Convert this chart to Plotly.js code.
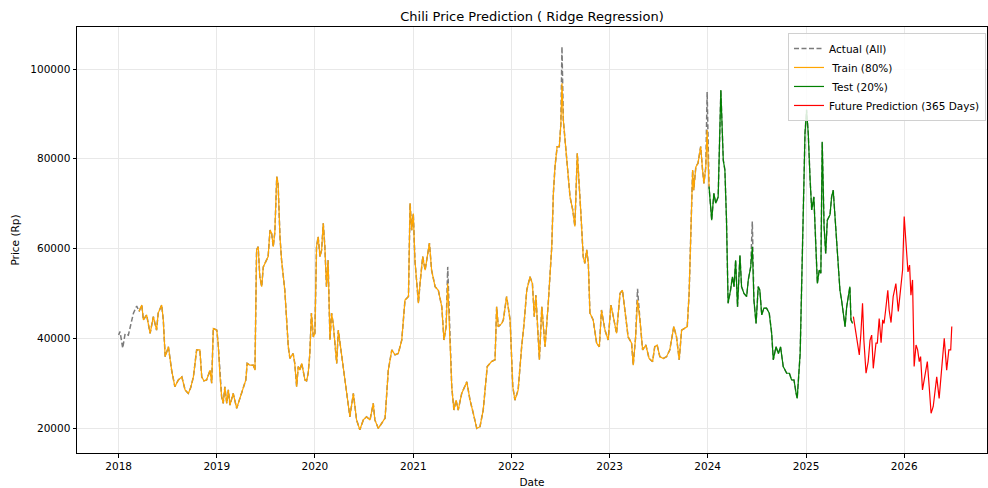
<!DOCTYPE html>
<html>
<head>
<meta charset="utf-8">
<script src="https://cdn.plot.ly/plotly-3.0.1.min.js"></script>
<style>html,body{margin:0;padding:0;background:#fff;}#chart{width:988px;height:488px;}</style>
</head>
<body>
<div id="chart"></div>
<script>
// Actual observed prices (decimal year, Rp)
const actualYears = [
2018.000,2018.015,2018.043,2018.066,2018.100,2018.127,2018.151,2018.185,2018.209,2018.236,
2018.253,2018.287,2018.321,2018.354,2018.389,2018.405,2018.440,2018.456,2018.474,2018.507,
2018.542,2018.575,2018.609,2018.644,2018.677,2018.711,2018.735,2018.762,2018.796,2018.830,
2018.847,2018.871,2018.898,2018.932,2018.949,2018.965,
2019.000,2019.016,2019.034,2019.051,2019.067,2019.084,2019.102,2019.118,2019.135,2019.169,
2019.204,2019.237,2019.271,2019.298,2019.312,2019.339,2019.373,2019.390,2019.407,2019.424,
2019.441,2019.458,2019.475,2019.509,2019.525,2019.543,2019.560,2019.576,2019.594,2019.611,
2019.627,2019.645,2019.662,2019.695,2019.713,2019.729,2019.746,2019.780,2019.797,2019.815,
2019.831,2019.848,2019.866,2019.882,2019.899,2019.916,2019.933,2019.950,2019.967,2019.984,
2020.001,2020.018,2020.035,2020.052,2020.069,2020.085,2020.103,2020.120,2020.136,2020.154,
2020.171,2020.187,2020.222,2020.238,2020.273,2020.306,2020.340,2020.357,2020.391,2020.426,
2020.459,2020.493,2020.527,2020.561,2020.595,2020.612,2020.646,2020.680,2020.714,2020.747,
2020.782,2020.816,2020.849,2020.884,2020.917,2020.951,2020.968,2020.986,
2021.002,2021.019,2021.053,2021.070,2021.098,2021.121,2021.165,2021.189,2021.223,2021.257,
2021.291,2021.315,2021.335,2021.352,2021.376,2021.393,2021.416,2021.437,2021.460,2021.495,
2021.546,2021.579,2021.613,2021.648,2021.681,2021.715,2021.756,2021.800,2021.834,2021.851,
2021.868,2021.902,2021.918,2021.953,2021.987,
2022.014,2022.038,2022.071,2022.106,2022.129,2022.157,2022.190,2022.214,2022.234,2022.251,
2022.285,2022.310,2022.343,2022.377,2022.411,2022.428,2022.445,2022.468,2022.489,2022.506,
2022.516,2022.529,2022.547,2022.580,2022.598,2022.625,2022.649,2022.672,2022.692,2022.710,
2022.733,2022.750,2022.768,2022.784,2022.801,2022.835,2022.870,2022.896,2022.920,2022.954,
2022.988,
2023.015,2023.039,2023.073,2023.107,2023.134,2023.158,2023.191,2023.226,2023.242,2023.267,
2023.287,2023.310,2023.338,2023.372,2023.405,2023.440,2023.463,2023.487,2023.514,2023.548,
2023.582,2023.616,2023.657,2023.684,2023.711,2023.735,2023.769,2023.792,2023.813,2023.827,
2023.837,2023.847,2023.860,2023.881,2023.904,2023.929,2023.949,2023.962,2023.983,2023.996,
2024.016,2024.041,2024.064,2024.084,2024.108,2024.135,2024.159,2024.176,2024.193,2024.210,
2024.234,2024.254,2024.268,2024.285,2024.305,2024.329,2024.346,2024.369,2024.397,2024.413,
2024.438,2024.454,2024.471,2024.492,2024.515,2024.532,2024.550,2024.573,2024.601,2024.627,
2024.652,2024.668,2024.695,2024.719,2024.743,2024.770,2024.804,2024.831,2024.855,2024.879,
2024.899,2024.912,2024.940,2024.957,2024.973,2024.991,
2025.008,2025.024,2025.042,2025.059,2025.082,2025.103,2025.116,2025.136,2025.151,2025.167,
2025.184,2025.201,2025.218,2025.245,2025.262,2025.279,2025.296,2025.313,2025.330,2025.347,
2025.364,2025.381,2025.398,2025.415,2025.432,2025.449,2025.459,2025.476
];
const actualPrices = [
40700,41500,37800,41000,40700,43000,45600,47200,46000,47400,
44100,45200,41100,44800,41800,45600,47400,44100,35900,38100,
32900,29200,30700,31400,28500,27700,29000,31400,37400,37400,
31400,30500,30700,32900,30000,42200,
41800,38900,31400,27000,25500,29200,25500,28500,25100,27700,
24400,26600,28500,30700,34400,34000,34000,32900,59700,60400,
53700,51500,55900,57400,58200,64100,63400,60400,63700,76000,
74500,62600,57400,50700,44800,38100,35500,36600,34400,29200,
33700,32900,34400,33000,30700,30500,32200,36500,45600,40300,
41100,60400,62600,58200,59700,65600,60400,51500,57400,39600,
45600,43300,34400,41800,36600,30700,24800,22500,27700,21800,
19600,21800,22500,21800,25500,21800,19900,21000,22200,32900,
37400,36300,36600,39600,48500,49300,70100,64100,
67800,57400,47800,52200,58200,55200,61200,55200,51500,50700,
47000,39600,42600,55900,38100,29200,24000,26200,24000,27700,
30300,26200,23300,19900,20300,24000,33700,34800,35200,47000,
42600,43300,44100,49300,44100,
29200,26200,28500,38100,43300,50700,53700,52200,44800,49600,
35200,47000,38100,47800,60400,72300,78200,82700,82700,87900,
105000,88600,84900,77500,71500,68600,64900,81200,75300,67100,
58200,56700,59700,56700,45600,44100,38900,38100,46300,41800,
39600,
47400,44800,41100,50000,50700,46300,40300,38900,34000,40300,
51000,44100,37400,38500,35500,34800,38100,38500,35900,35500,
35900,37400,42600,40300,35200,41800,42200,42600,50000,62000,
72300,77500,73000,78200,79000,82700,77500,74500,78200,94900,
73800,66300,72300,70100,71500,95300,79700,77500,66300,47800,
50700,53700,51500,57400,47000,58500,51500,50000,49300,53000,
55900,66000,48500,43300,51500,50700,45200,46700,46700,45600,
41100,35200,38100,36600,38100,33700,32200,32200,30700,30700,
27700,26600,36600,51500,67800,85700,
90900,85700,75300,68600,71500,60400,52200,55200,54500,83800,
64900,58900,66300,67500,71500,73000,66300,60400,54500,50700,
48500,45600,42600,47000,49300,51500,44100,43300
];

// Model fit on the training span (80%)
const trainYears = [
2018.209,2018.236,2018.253,2018.287,2018.321,2018.354,2018.389,2018.405,2018.440,2018.456,
2018.474,2018.507,2018.542,2018.575,2018.609,2018.644,2018.677,2018.711,2018.735,2018.762,
2018.796,2018.830,2018.847,2018.871,2018.898,2018.932,2018.949,2018.965,
2019.000,2019.016,2019.034,2019.051,2019.067,2019.084,2019.102,2019.118,2019.135,2019.169,
2019.204,2019.237,2019.271,2019.298,2019.312,2019.339,2019.373,2019.390,2019.407,2019.424,
2019.441,2019.458,2019.475,2019.509,2019.525,2019.543,2019.560,2019.576,2019.594,2019.611,
2019.627,2019.645,2019.662,2019.695,2019.713,2019.729,2019.746,2019.780,2019.797,2019.815,
2019.831,2019.848,2019.866,2019.882,2019.899,2019.916,2019.933,2019.950,2019.967,2019.984,
2020.001,2020.018,2020.035,2020.052,2020.069,2020.085,2020.103,2020.120,2020.136,2020.154,
2020.171,2020.187,2020.222,2020.238,2020.273,2020.306,2020.340,2020.357,2020.391,2020.426,
2020.459,2020.493,2020.527,2020.561,2020.595,2020.612,2020.646,2020.680,2020.714,2020.747,
2020.782,2020.816,2020.849,2020.884,2020.917,2020.951,2020.968,2020.986,
2021.002,2021.019,2021.053,2021.070,2021.098,2021.121,2021.165,2021.189,2021.223,2021.257,
2021.291,2021.315,2021.335,2021.352,2021.376,2021.393,2021.416,2021.437,2021.460,2021.495,
2021.546,2021.579,2021.613,2021.648,2021.681,2021.715,2021.756,2021.800,2021.834,2021.851,
2021.868,2021.902,2021.918,2021.953,2021.987,
2022.014,2022.038,2022.071,2022.106,2022.129,2022.157,2022.190,2022.214,2022.234,2022.251,
2022.285,2022.310,2022.343,2022.377,2022.411,2022.428,2022.445,2022.468,2022.489,2022.506,
2022.516,2022.529,2022.547,2022.580,2022.598,2022.625,2022.649,2022.672,2022.692,2022.710,
2022.733,2022.750,2022.768,2022.784,2022.801,2022.835,2022.870,2022.896,2022.920,2022.954,
2022.988,
2023.015,2023.039,2023.073,2023.107,2023.134,2023.158,2023.191,2023.226,2023.242,2023.267,
2023.287,2023.310,2023.338,2023.372,2023.405,2023.440,2023.463,2023.487,2023.514,2023.548,
2023.582,2023.616,2023.657,2023.684,2023.711,2023.735,2023.769,2023.792,2023.813,2023.827,
2023.837,2023.847,2023.860,2023.881,2023.904,2023.929,2023.949,2023.962,2023.983,2023.996,
2024.016
];
const trainPrices = [
46000,47400,44100,45200,41100,44800,41800,45600,47400,44100,
35900,38100,32900,29200,30700,31400,28500,27700,29000,31400,
37400,37400,31400,30500,30700,32900,30000,42200,
41800,38900,31400,27000,25500,29200,25500,28500,25100,27700,
24400,26600,28500,30700,34400,34000,34000,32900,59700,60400,
53700,51500,55900,57400,58200,64100,63400,60400,63700,76000,
74500,62600,57400,50700,44800,38100,35500,36600,34400,29200,
33700,32900,34400,33000,30700,30500,32200,36500,45600,40300,
41100,60400,62600,58200,59700,65600,60400,51500,57400,39600,
45600,43300,34400,41800,36600,30700,24800,22500,27700,21800,
19600,21800,22500,21800,25500,21800,19900,21000,22200,32900,
37400,36300,36600,39600,48500,49300,70100,64100,
67800,57400,47800,52200,58200,55200,61200,55200,51500,50700,
47000,39600,42600,52200,38100,29200,24000,26200,24000,27700,
30300,26200,23300,19900,20300,24000,33700,34800,35200,47000,
42600,43300,44100,49300,44100,
29200,26200,28500,38100,43300,50700,53700,52200,44800,49600,
35200,47000,38100,47800,60400,72300,78200,82700,82700,87900,
96800,88600,84900,77500,71500,68600,64900,81200,75300,67100,
58200,56700,59700,56700,45600,44100,38900,38100,46300,41800,
39600,
47400,44800,41100,50000,50700,46300,40300,38900,34000,40300,
48500,44100,37400,38500,35500,34800,38100,38500,35900,35500,
35900,37400,42600,40300,35200,41800,42200,42600,50000,62000,
72300,77500,73000,78200,79000,82700,77500,74500,78200,86400,
73800
];

// Model on the test span (20%)
const testYears = [
2024.016,2024.041,2024.064,2024.084,2024.108,2024.135,2024.159,2024.176,2024.193,2024.210,
2024.234,2024.254,2024.268,2024.285,2024.305,2024.329,2024.346,2024.369,2024.397,2024.413,
2024.438,2024.454,2024.471,2024.492,2024.515,2024.532,2024.550,2024.573,2024.601,2024.627,
2024.652,2024.668,2024.695,2024.719,2024.743,2024.770,2024.804,2024.831,2024.855,2024.879,
2024.899,2024.912,2024.940,2024.957,2024.973,2024.991,
2025.008,2025.024,2025.042,2025.059,2025.082,2025.103,2025.116,2025.136,2025.151,2025.167,
2025.184,2025.201,2025.218,2025.245,2025.262,2025.279,2025.296,2025.313,2025.330,2025.347,
2025.364,2025.381,2025.398,2025.415,2025.432,2025.449,2025.459,2025.476
];
const testPrices = [
73800,66300,72300,70100,71500,95300,79700,77500,66300,47800,
50700,53700,51500,57400,47000,58500,51500,50000,49300,53000,
55900,60400,48500,43300,51500,50700,45200,46700,46700,45600,
41100,35200,38100,36600,38100,33700,32200,32200,30700,30700,
27700,26600,36600,51500,67800,85700,
90900,85700,75300,68600,71500,60400,52200,55200,54500,83800,
64900,58900,66300,67500,71500,73000,66300,60400,54500,50700,
48500,45600,42600,47000,49300,51500,44100,43300
];

// Future prediction (365 days)
const futureYears = [
2025.483,2025.507,2025.527,2025.544,2025.561,2025.578,2025.591,2025.612,2025.635,2025.653,
2025.670,2025.686,2025.714,2025.727,2025.747,2025.765,2025.782,2025.795,2025.813,2025.833,
2025.849,2025.866,2025.890,2025.917,2025.941,2025.958,2025.975,2025.986,
2026.002,2026.022,2026.039,2026.055,2026.070,2026.087,2026.104,2026.121,2026.138,2026.155,
2026.169,2026.189,2026.213,2026.236,2026.257,2026.274,2026.297,2026.315,2026.332,2026.358,
2026.383,2026.409,2026.434,2026.457,2026.474,2026.485
];
const futurePrices = [
44800,41100,38900,36300,41100,47800,39600,32200,34800,39600,
40700,33300,38900,38900,44400,39000,44100,43300,46300,50700,
46300,43500,49300,52200,46000,49300,51500,55200,
67100,59300,54800,56300,49600,53000,33700,38500,37400,34800,
35900,28500,31400,34800,29200,23300,24800,28500,31400,26600,
33700,40000,32900,37400,37400,42600
];

const yTicks = [20000, 40000, 60000, 80000, 100000];
const xRangeYears = [2017.577, 2026.844];
const yRange = [14430, 109360];

function yearToDate(y) {
  const yr = Math.floor(y);
  const s = Date.UTC(yr, 0, 1), e = Date.UTC(yr + 1, 0, 1);
  return new Date(s + (y - yr) * (e - s)).toISOString().slice(0, 10);
}
const toDates = arr => arr.map(yearToDate);

const FONT = 'DejaVu Sans, sans-serif';
const traces = [
  {x: toDates(actualYears), y: actualPrices, type: 'scatter', mode: 'lines', name: 'Actual (All)',
   line: {color: 'rgba(90,90,90,0.8)', width: 1.5, dash: '5px,2.5px'}},
  {x: toDates(trainYears), y: trainPrices, type: 'scatter', mode: 'lines', name: ' Train (80%)',
   line: {color: '#FFA500', width: 1.2}},
  {x: toDates(testYears), y: testPrices, type: 'scatter', mode: 'lines', name: ' Test (20%)',
   line: {color: '#008000', width: 1.2}},
  {x: toDates(futureYears), y: futurePrices, type: 'scatter', mode: 'lines', name: 'Future Prediction (365 Days)',
   line: {color: '#FF0000', width: 1.2}}
];

const layout = {
  width: 988, height: 488,
  margin: {l: 77, r: 1, t: 27, b: 35},
  paper_bgcolor: '#fff', plot_bgcolor: '#fff',
  font: {family: FONT, size: 10.5, color: '#000'},
  title: {text: 'Chili Price Prediction ( Ridge Regression)', font: {family: FONT, size: 13, color: '#000'},
          x: 0.5, xref: 'paper', y: 1 - 16/488, yref: 'container', yanchor: 'middle'},
  showlegend: true,
  legend: {x: 0.9989, y: 0.986, xanchor: 'right', yanchor: 'top', bgcolor: 'rgba(255,255,255,0.85)',
           bordercolor: '#d0d0d0', borderwidth: 1, font: {family: FONT, size: 10.5, color: '#000'},
           tracegroupgap: 0},
  xaxis: {type: 'date', range: xRangeYears.map(yearToDate), tick0: '2018-01-01', dtick: 'M12', tickformat: '%Y',
          showline: true, mirror: true, linecolor: '#000', linewidth: 1,
          ticks: 'outside', ticklen: 3.5, tickcolor: '#000', tickwidth: 1,
          showgrid: true, gridcolor: '#e8e8e8', gridwidth: 1, zeroline: false,
          title: {text: 'Date', font: {family: FONT, size: 10.5}, standoff: 7}},
  yaxis: {range: yRange, tickvals: yTicks, ticktext: yTicks.map(String),
          showline: true, mirror: true, linecolor: '#000', linewidth: 1,
          ticks: 'outside', ticklen: 3.5, tickcolor: '#000', tickwidth: 1,
          showgrid: true, gridcolor: '#e8e8e8', gridwidth: 1, zeroline: false,
          title: {text: 'Price (Rp)', font: {family: FONT, size: 10.5}, standoff: 8}}
};

Plotly.newPlot('chart', traces, layout, {displayModeBar: false, staticPlot: true});
</script>
</body>
</html>
